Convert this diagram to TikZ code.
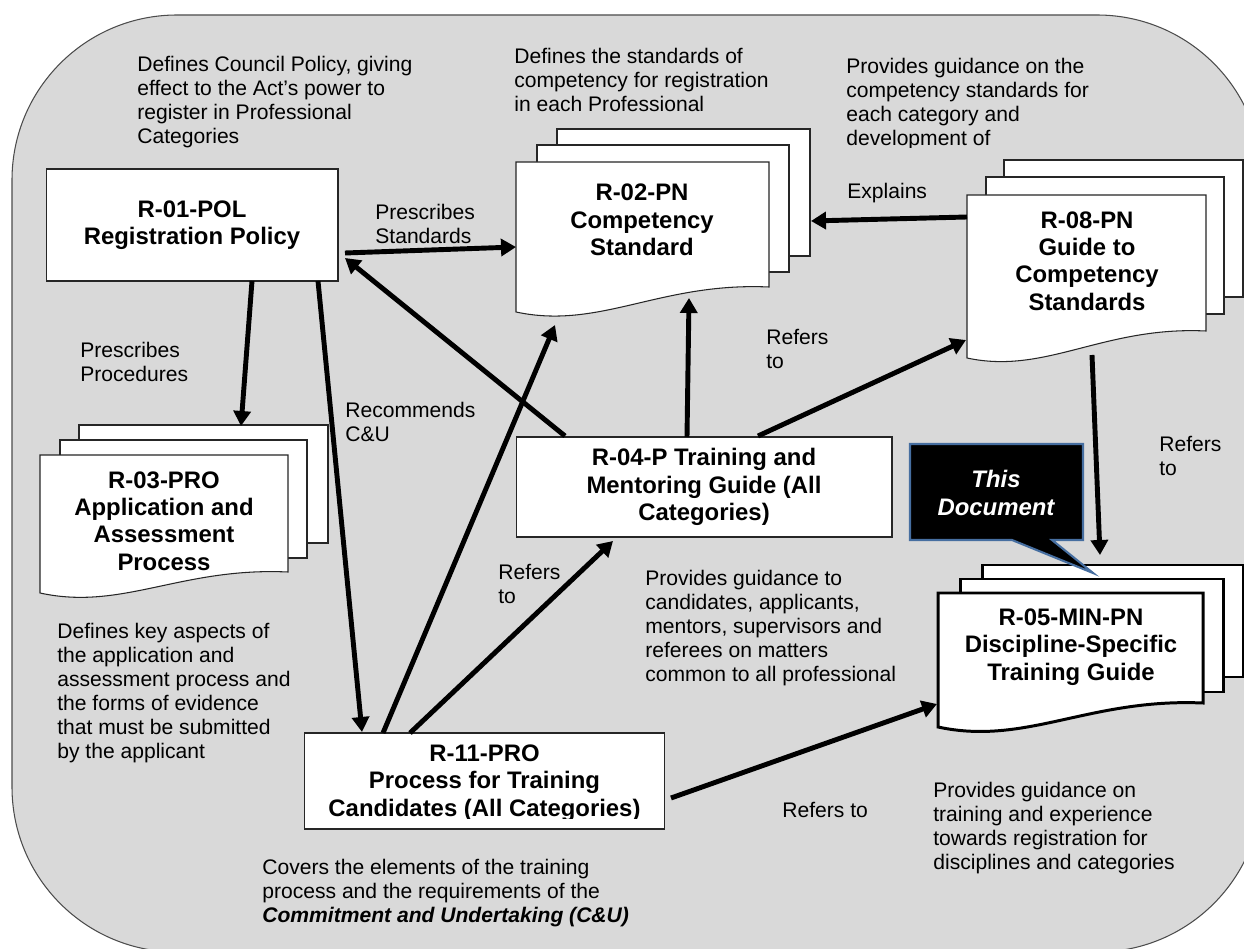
\documentclass[tikz,border=0pt]{standalone}
\usepackage{fontspec}
\setmainfont{Liberation Sans}
\usetikzlibrary{arrows.meta}
\definecolor{bggray}{RGB}{217,217,217}
\definecolor{callblue}{RGB}{70,110,160}
\tikzset{
  lbl/.style={font=\fontsize{12pt}{13.6pt}\selectfont, align=left, anchor=west, inner sep=0pt},
  ttl/.style={font=\fontsize{13.6pt}{15.6pt}\selectfont\bfseries, align=center, inner sep=0pt},
  page/.style={draw=black!85, fill=white, line width=0.6pt},
  pagethick/.style={draw=black, fill=white, line width=1.7pt},
  box/.style={draw=black!85, fill=white, line width=0.6pt},
  link/.style={line width=2.8pt, -{Triangle[length=0.3cm,width=0.34cm]}},
  linkboth/.style={line width=2.8pt, {Triangle[length=0.3cm,width=0.34cm]}-{Triangle[length=0.3cm,width=0.34cm]}},
}
\begin{document}
\begin{tikzpicture}[x=0.02cm,y=-0.02cm]
\useasboundingbox (0,0) rectangle (1244,949);
\begin{scope}
\clip (0,0) rectangle (1244,949);
% background
\draw[fill=bggray, draw=black!70, line width=0.6pt, rounded corners=3.3cm] (12,15) rectangle (1262,952);

% R-02 stack
\draw[page] (557,129) rectangle (810,256);
\draw[page] (537,145) rectangle (789,272);
\draw[page] (516,162) -- (769,162) -- (769,287) .. controls (660,282) and (600,330) .. (516,312) -- cycle;
\node[ttl] (r02) at (642,220) {R-02-PN\\Competency\\Standard};

% R-08 stack
\draw[page] (1004,160) rectangle (1243,297);
\draw[page] (986,177) rectangle (1224,314);
\draw[page] (967,195) -- (1206,195) -- (1206,331) .. controls (1103,326) and (1046,375) .. (967,358) -- cycle;
\node[ttl] (r08) at (1087,261) {R-08-PN\\Guide to\\Competency\\Standards};

% R-03 stack
\draw[page] (79,425) rectangle (328,543);
\draw[page] (60,440) rectangle (307,558);
\draw[page] (40,455) -- (288,455) -- (288,572) .. controls (181,567) and (122,611) .. (40,593) -- cycle;
\node[ttl] (r03) at (164,521) {R-03-PRO\\Application and\\Assessment\\Process};

% R-05 stack
\draw[pagethick] (982,565) rectangle (1243,677);
\draw[pagethick] (960,579) rectangle (1223,692);
\draw[pagethick] (938,593) -- (1203,593) -- (1203,703) .. controls (1089,698) and (1026,746) .. (938,727) -- cycle;
\node[ttl] (r05) at (1071,647) {R-05-MIN-PN\\Discipline-Specific\\Training Guide};

% boxes
\node[box, ttl, minimum width=5.84cm, minimum height=2.24cm] (r01) at (192,225) {R-01-POL\\Registration Policy};
\node[box, ttl, minimum width=7.52cm, minimum height=2cm] (r04) at (704,487) {R-04-P Training and\\Mentoring Guide (All\\Categories)};
\node[box, minimum width=7.22cm, minimum height=1.92cm] (r11) at (484.5,781) {};
\begin{scope}
\clip (304,733) rectangle (665,818);
\node[ttl] (r11t) at (484.5,783) {R-11-PRO\\Process for Training\\Candidates (All Categories)};
\end{scope}

% callout
\draw[fill=black, draw=callblue, line width=1.2pt] (910,444) -- (1083,444) -- (1083,540) -- (1052,540) -- (1093,573) -- (1012,540) -- (910,540) -- cycle;
\node[ttl, text=white, font=\fontsize{13.6pt}{15.6pt}\selectfont\bfseries\itshape] (thisdoc) at (996,493) {This\\Document};

% connector end points
\coordinate (r01e) at (345,253);
\coordinate (r02w) at (516,247);
\coordinate (r08w) at (967,217);
\coordinate (r02e) at (811,221);
\coordinate (r01s1) at (252,281);
\coordinate (r03n) at (241,426);
\coordinate (r01s2) at (318,281);
\coordinate (r11n1) at (362,732);
\coordinate (r04nw) at (565,436);
\coordinate (r01se) at (345,258);
\coordinate (r11n2) at (383,733);
\coordinate (r02s1) at (555,325);
\coordinate (r11n3) at (410,733);
\coordinate (r04s) at (613,541);
\coordinate (r04n1) at (687,437);
\coordinate (r02s2) at (689,298);
\coordinate (r04n2) at (758,436);
\coordinate (r08sw) at (966,340);
\coordinate (r08s) at (1092,355);
\coordinate (r05n) at (1100,555);
\coordinate (r11e) at (671,798);
\coordinate (r05w) at (937,704);

% connectors
\draw[line width=2.8pt, -{Triangle[length=0.3cm,width=0.34cm]}] (r01e) -- (r02w);
\draw[link] (r08w) -- (r02e);
\draw[link] (r01s1) -- (r03n);
\draw[link] (r01s2) -- (r11n1);
\draw[link] (r04nw) -- (r01se);
\draw[link] (r11n2) -- (r02s1);
\draw[link] (r11n3) -- (r04s);
\draw[link] (r04n1) -- (r02s2);
\draw[link] (r04n2) -- (r08sw);
\draw[link] (r08s) -- (r05n);
\draw[link] (r11e) -- (r05w);

% labels
\node[lbl] (d01) at (137,102) {Defines Council Policy, giving\\effect to the Act’s power to\\register in Professional\\Categories};
\node[lbl] (d02) at (514,80) {Defines the standards of\\competency for registration\\in each Professional};
\begin{scope}
\clip (840,40) rectangle (1120,148);
\node[lbl] (d08) at (846,104) {Provides guidance on the\\competency standards for\\each category and\\development of};
\end{scope}
\node[lbl] (lps) at (375,224) {Prescribes\\Standards};
\node[lbl] (lex) at (847,193) {Explains};
\node[lbl] (lpp) at (80,362) {Prescribes\\Procedures};
\node[lbl] (lrc) at (345,422) {Recommends\\C\&U};
\node[lbl] (lrf1) at (766,349) {Refers\\to};
\node[lbl] (lrf2) at (498,584) {Refers\\to};
\node[lbl] (lrf3) at (1159,456) {Refers\\to};
\node[lbl] (lrf4) at (782,810) {Refers to};
\node[lbl] (d03) at (57,693) {Defines key aspects of\\the application and\\assessment process and\\the forms of evidence\\that must be submitted\\by the applicant};
\node[lbl] (d04) at (645,628) {Provides guidance to\\candidates, applicants,\\mentors, supervisors and\\referees on matters\\common to all professional};
\node[lbl] (d05) at (933,828) {Provides guidance on\\training and experience\\towards registration for\\disciplines and categories};
\node[lbl] (d11) at (262,893) {Covers the elements of the training\\process and the requirements of the\\\textbf{\textit{Commitment and Undertaking (C\&U)}}};
\end{scope}
\end{tikzpicture}
\end{document}
